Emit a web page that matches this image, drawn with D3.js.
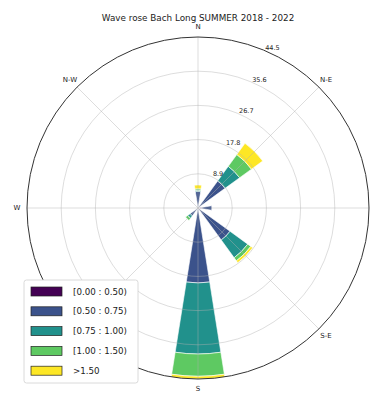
<!DOCTYPE html>
<html>
<head>
<meta charset="utf-8">
<script src="https://cdn.jsdelivr.net/npm/d3@7"></script>
<style>
  html, body { margin: 0; padding: 0; background: #fff; }
  svg { display: block; font-family: "DejaVu Sans", sans-serif; }
</style>
</head>
<body>
<script>
// 16 direction sectors, clockwise from north
const directions = ["N","NNE","NE","ENE","E","ESE","SE","SSE","S","SSW","SW","WSW","W","WNW","NW","NNW"];

// Frequency (%) per direction for each wave-height class
const h000_050 = [0.2, 0, 0.3, 0, 1.0, 0, 0.3, 0, 0.3, 0, 0.2, 0, 0, 0, 0, 0];
const h050_075 = [4.1, 0, 8.4, 0, 2.6, 0, 10.0, 0, 19.2, 0, 2.3, 0, 0, 0, 0, 0];
const h075_100 = [0.3, 0, 4.7, 0, 0, 0, 5.7, 0, 18.5, 0, 0.8, 0, 0, 0, 0, 0];
const h100_150 = [0.4, 0, 3.8, 0, 0, 0, 1.0, 0, 5.8, 0, 0.7, 0, 0, 0, 0, 0];
const h150_up  = [1.0, 0, 3.6, 0, 0, 0, 0.6, 0, 0.7, 0, 0, 0, 0, 0, 0, 0];

const classLabels = ["[0.00 : 0.50)", "[0.50 : 0.75)", "[0.75 : 1.00)", "[1.00 : 1.50)", ">1.50"];
const radialTicks = [8.9, 17.8, 26.7, 35.6, 44.5];
// Compass labels that fall inside the frame and clear of the legend
const compassLabels = ["N", "N-E", "S-E", "S", "W", "N-W"];
const compassDegrees = [0, 45, 135, 180, 270, 315];
const titleText = "Wave rose Bach Long SUMMER 2018 - 2022";

const series = [h000_050, h050_075, h075_100, h100_150, h150_up];
const colors = [0, 0.25, 0.5, 0.75, 1].map(t => d3.interpolateViridis(t));

const W = 373, H = 396;
const cx = 198, cy = 208, R = 171;
const rMax = 44.5;

const svg = d3.select("body").append("svg").attr("width", W).attr("height", H);

const r = d3.scaleLinear().domain([0, rMax]).range([0, R]);
const sectorStep = 2 * Math.PI / directions.length;
const opening = sectorStep * 0.8;
const angle = d3.scaleOrdinal().domain(directions).range(directions.map((d, i) => i * sectorStep));
const rad = d => d * Math.PI / 180;

const g = svg.append("g").attr("transform", `translate(${cx},${cy})`);

// Stacked segments
const stack = d3.stack().keys(d3.range(series.length))
  .value((d, k) => series[k][d])(d3.range(directions.length));

const arc = d3.arc();
stack.forEach((layer, k) => {
  g.append("g").selectAll("path")
    .data(layer.filter(d => d[1] - d[0] > 0))
    .join("path")
    .attr("d", d => {
      const a = angle(directions[d.data]);
      return arc({
        innerRadius: r(d[0]), outerRadius: r(d[1]),
        startAngle: a - opening / 2, endAngle: a + opening / 2
      });
    })
    .attr("fill", colors[k])
    .attr("stroke", "#fff")
    .attr("stroke-width", 0.6);
});

// Grid drawn over the bars
const grid = g.append("g").attr("stroke", "#b0b0b0").attr("stroke-opacity", 0.55)
  .attr("fill", "none").attr("stroke-width", 0.8);
grid.selectAll("circle").data(radialTicks.slice(0, -1)).join("circle").attr("r", d => r(d));
grid.selectAll("line").data(d3.range(0, 360, 45)).join("line")
  .attr("x1", 0).attr("y1", 0)
  .attr("x2", d => R * Math.sin(rad(d)))
  .attr("y2", d => -R * Math.cos(rad(d)));

// Outer frame
g.append("circle").attr("r", R).attr("fill", "none").attr("stroke", "#333").attr("stroke-width", 1);

// Radial tick labels along 22.5°
const labAng = rad(22.5);
g.append("g").selectAll("text").data(radialTicks).join("text")
  .attr("x", d => r(d) * Math.sin(labAng) + 1.8)
  .attr("y", d => -r(d) * Math.cos(labAng))
  .attr("font-size", 6.5).attr("fill", "#222")
  .text(d => d3.format(".1f")(d));

// Compass labels
g.append("g").selectAll("text").data(compassLabels).join("text")
  .attr("x", (d, i) => 181 * Math.sin(rad(compassDegrees[i])))
  .attr("y", (d, i) => -181 * Math.cos(rad(compassDegrees[i])))
  .attr("text-anchor", "middle").attr("dominant-baseline", "central")
  .attr("font-size", 7).attr("fill", "#222")
  .text(d => d);

// Title
svg.append("text").attr("x", cx).attr("y", 20.5).attr("text-anchor", "middle")
  .attr("font-size", 8.8).attr("fill", "#222").text(titleText);

// Legend
const lg = svg.append("g").attr("transform", "translate(24,280)");
lg.append("rect").attr("width", 114).attr("height", 103).attr("rx", 2.5)
  .attr("fill", "#fff").attr("stroke", "#d0d0d0").attr("stroke-width", 0.8);
const items = lg.selectAll("g").data(classLabels).join("g")
  .attr("transform", (d, i) => `translate(7,${7 + i * 19.8})`);
items.append("rect").attr("width", 31).attr("height", 9)
  .attr("fill", (d, i) => colors[i]).attr("stroke", "#222").attr("stroke-width", 0.7);
items.append("text").attr("x", 42).attr("y", 7.6)
  .attr("font-size", 8.7).attr("fill", "#222").text(d => d);
</script>
</body>
</html>
